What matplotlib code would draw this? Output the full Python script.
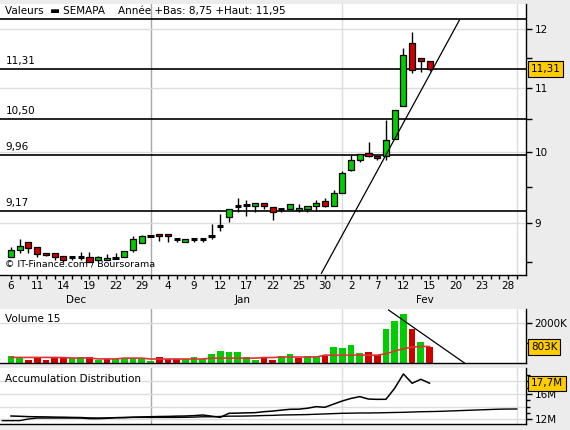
import matplotlib
matplotlib.use("Agg")
import matplotlib.pyplot as plt
import matplotlib.transforms as mtransforms
from matplotlib.ticker import FixedLocator, NullFormatter

# SEMAPA, seances du 6 dec 2006 au 15 fev 2007 (axe jusqu'au 28 fev)
tick_days = ["6", "11", "14", "19", "22", "29", "4", "9", "12", "17",
             "22", "25", "30", "2", "7", "12", "15", "20", "23", "28"]
months = ["Dec", "Jan", "Fev"]
month_first = [0, 16, 38]
n_slots = 58

opens = [8.56, 8.65, 8.75, 8.69, 8.61, 8.61, 8.58, 8.56, 8.56, 8.57,
         8.52, 8.52, 8.55, 8.56, 8.65, 8.74, 8.84, 8.86, 8.86, 8.79,
         8.75, 8.79, 8.79, 8.84, 8.97, 9.08, 9.24, 9.25, 9.23, 9.27,
         9.22, 9.19, 9.19, 9.18, 9.20, 9.23, 9.30, 9.24, 9.42, 9.74,
         9.89, 9.99, 9.95, 9.95, 10.20, 10.70, 11.76, 11.50, 11.45]
highs = [8.69, 8.80, 8.75, 8.69, 8.61, 8.61, 8.58, 8.56, 8.63, 8.63,
         8.58, 8.60, 8.62, 8.64, 8.84, 8.85, 8.85, 8.86, 8.86, 8.81,
         8.79, 8.81, 8.81, 8.99, 9.12, 9.20, 9.35, 9.32, 9.27, 9.27,
         9.22, 9.21, 9.26, 9.26, 9.24, 9.32, 9.35, 9.45, 9.73, 9.96,
         9.98, 10.15, 9.95, 10.49, 10.65, 11.66, 11.95, 11.50, 11.45]
lows = [8.56, 8.61, 8.61, 8.57, 8.58, 8.53, 8.50, 8.52, 8.53, 8.50,
        8.50, 8.52, 8.55, 8.56, 8.63, 8.74, 8.84, 8.77, 8.75, 8.76,
        8.75, 8.76, 8.76, 8.80, 8.90, 9.02, 9.16, 9.10, 9.16, 9.20,
        9.04, 9.15, 9.19, 9.16, 9.15, 9.17, 9.22, 9.24, 9.42, 9.73,
        9.86, 9.93, 9.88, 9.89, 10.20, 10.70, 11.25, 11.26, 11.27]
closes = [8.65, 8.70, 8.68, 8.60, 8.59, 8.56, 8.52, 8.56, 8.56, 8.50,
          8.56, 8.55, 8.55, 8.64, 8.80, 8.83, 8.84, 8.83, 8.83, 8.79,
          8.79, 8.79, 8.79, 8.84, 8.97, 9.20, 9.24, 9.25, 9.27, 9.24,
          9.15, 9.19, 9.26, 9.21, 9.23, 9.28, 9.24, 9.41, 9.69, 9.89,
          9.98, 9.94, 9.91, 10.18, 10.65, 11.55, 11.29, 11.45, 11.31]

levels = [11.31, 10.50, 9.96, 9.17]
level_labels = ["11,31", "10,50", "9,96", "9,17"]
trend_idx = [35.6, 51.4]
trend_price = [8.36, 12.15]

# volume en milliers de titres
volumes = [363, 281, 165, 281, 165, 281, 281, 231, 314, 314,
           165, 198, 198, 248, 248, 198, 116, 314, 198, 198,
           198, 314, 198, 462, 627, 561, 561, 281, 165, 281,
           165, 363, 462, 231, 347, 347, 347, 809, 759, 908,
           479, 561, 396, 1700, 2096, 2442, 1700, 1056, 803]
vol_dir = "GGRRRRRGGRGRGGGGGRRRGGGGGGGGGRRGGRGGRGGGGRRGGGRGR"
vol_ma = [280, 280, 280, 280, 280, 280, 275, 250, 250, 250,
          205, 205, 205, 245, 245, 245, 200, 200, 200, 200,
          200, 200, 200, 245, 245, 245, 245, 245, 245, 275,
          275, 300, 300, 300, 300, 300, 395, 395, 395, 395,
          395, 395, 395, 460, 600, 720, 800, 830, 830]
vol_trend_idx = [43.3, 52.0]
vol_trend_val = [2660, 0]

# accumulation distribution en millions
acc_dist = [12.52, 12.48, 12.42, 12.40, 12.38, 12.35, 12.33, 12.30, 12.28, 12.22,
            12.20, 12.22, 12.26, 12.30, 12.34, 12.38, 12.41, 12.44, 12.46, 12.50,
            12.52, 12.58, 12.68, 12.50, 12.31, 12.95, 12.98, 13.02, 13.05, 13.20,
            13.30, 13.45, 13.58, 13.60, 13.75, 14.00, 13.90, 14.40, 14.90, 15.30,
            15.58, 15.20, 15.15, 15.16, 16.90, 19.16, 17.69, 18.32, 17.70]
acc_trend = [11.79, 11.79, 11.79, 12.05, 12.2, 12.2, 12.2, 12.2, 12.2, 12.2,
             12.1, 12.1, 12.15, 12.25, 12.25, 12.3, 12.3, 12.3, 12.3, 12.3,
             12.3, 12.32, 12.35, 12.4, 12.4, 12.45, 12.5, 12.5, 12.52, 12.55,
             12.6, 12.62, 12.68, 12.7, 12.72, 12.75, 12.8, 12.85, 12.9, 12.95,
             12.97, 13.0, 13.0, 13.02, 13.05, 13.08, 13.1, 13.15, 13.2, 13.22,
             13.25, 13.3, 13.35, 13.4, 13.45, 13.5, 13.55, 13.6, 13.62, 13.63]

GREEN = "#00CC00"
RED = "#CC0000"
BG = "#ECECEC"
ORANGE = "#FFCC00"
GRID = "#DDDDDD"
FS = 7.5

plt.rcParams["font.family"] = ["DejaVu Sans"]
plt.rcParams["font.size"] = FS

W, H = 570, 430
fig = plt.figure(figsize=(W / 100, H / 100), dpi=100, facecolor=BG)


def panel(top, bottom):
    return fig.add_axes([0, 1 - bottom / H, 526 / W, (bottom - top) / H])


ax = panel(4, 275)
vax = panel(309, 363)
aax = panel(368, 424)

x0, x1 = -1.26, 59.06
days = list(range(len(closes)))

for a in (ax, vax, aax):
    a.set_facecolor("white")
    a.set_xlim(x0, x1)
    for s in ("left", "top"):
        a.spines[s].set_visible(False)
    for s in ("right", "bottom"):
        a.spines[s].set_color("black")
        a.spines[s].set_linewidth(1)
    # debut de mois
    a.axvline(month_first[1], color="#A8A8A8", lw=1, zorder=0)
    a.axvline(month_first[2], color=GRID, lw=1, zorder=0)
    a.axvline(n_slots, color=GRID, lw=1, zorder=0)
    a.tick_params(axis="y", which="both", direction="out", left=False, right=True,
                  labelleft=False, labelright=True, length=4, width=1, pad=2,
                  labelsize=FS)

# ---- cours
ax.set_yscale("log")
ax.set_ylim(8.339, 12.45)
for p in [9, 10, 11, 12]:
    ax.axhline(p, color=GRID, lw=1, zorder=0)
ax.yaxis.set_major_locator(FixedLocator([9, 10, 11, 12]))
ax.yaxis.set_minor_locator(FixedLocator([8.5, 9.5, 10.5, 11.5]))
ax.set_yticklabels(["9", "10", "11", "12"])
ax.yaxis.set_minor_formatter(NullFormatter())

for lv, lab in zip(levels, level_labels):
    ax.axhline(lv, color="black", lw=1.2, zorder=1)
    ax.annotate(lab, xy=(0, lv), xycoords=mtransforms.blended_transform_factory(ax.transAxes, ax.transData),
                xytext=(4, 2), textcoords="offset points", ha="left", va="bottom", fontsize=FS)

ax.vlines(days, lows, highs, color="black", lw=1, zorder=2)
for i in days:
    o, c = opens[i], closes[i]
    if abs(c - o) < 0.015:
        ax.hlines((o + c) / 2, i - 0.36, i + 0.36, color="black", lw=2.2, zorder=3)
    else:
        ax.bar(i, abs(c - o), bottom=min(o, c), width=0.7,
               color=GREEN if c > o else RED, edgecolor="black", lw=0.9, zorder=3)

ax.plot(trend_idx, trend_price, color="black", lw=0.9, zorder=4)
ax.plot([0, 1], [0.945, 0.945], transform=ax.transAxes, color="black", lw=1.2, clip_on=False)
ax.text(0.009, 0.975, "Valeurs  \u25ac SEMAPA    Ann\u00e9e +Bas: 8,75 +Haut: 11,95",
        transform=ax.transAxes, ha="left", va="center", fontsize=FS)
ax.text(0.009, 0.025, "\u00a9 IT-Finance.com / Boursorama", transform=ax.transAxes,
        ha="left", va="bottom", fontsize=6.8)
ax.annotate("11,31", xy=(1, closes[-1]),
            xycoords=mtransforms.blended_transform_factory(ax.transAxes, ax.transData),
            xytext=(3.5, 0), textcoords="offset points", ha="left", va="center", fontsize=FS,
            bbox=dict(boxstyle="square,pad=0.25", fc=ORANGE, ec="black", lw=0.8))

ax.set_xticks(range(0, n_slots, 3))
ax.set_xticklabels(tick_days)
ax.set_xticks(range(0, n_slots + 1), minor=True)
ax.tick_params(axis="x", which="both", direction="out", length=3, width=1, pad=1.5, labelsize=FS)
xt = mtransforms.blended_transform_factory(ax.transData, ax.transAxes)
bounds = month_first + [n_slots]
for k, m in enumerate(months):
    ax.text((bounds[k] + bounds[k + 1] - 1) / 2, -0.092, m, transform=xt,
            ha="center", va="center", fontsize=FS)

# ---- volume
vax.set_ylim(0, 2710)
vax.axhline(2000, color=GRID, lw=1, zorder=0)
vax.bar(days, volumes, width=0.77, color=[GREEN if d == "G" else RED for d in vol_dir], zorder=2)
vax.plot(days, vol_ma, color="#DD3333", lw=1.2, zorder=3)
vax.plot(vol_trend_idx, vol_trend_val, color="black", lw=0.9, zorder=4)
vax.set_yticks([1000, 2000])
vax.set_yticklabels(["", "2000K"])
vax.set_xticks([])
vax.text(0.009, 0.82, "Volume 15", transform=vax.transAxes, ha="left", va="center", fontsize=FS)
vax.annotate("803K", xy=(1, volumes[-1]),
             xycoords=mtransforms.blended_transform_factory(vax.transAxes, vax.transData),
             xytext=(3.5, 0), textcoords="offset points", ha="left", va="center", fontsize=FS,
             bbox=dict(boxstyle="square,pad=0.25", fc=ORANGE, ec="black", lw=0.8))

# ---- accumulation distribution
aax.set_ylim(11.26, 20.1)
for v in [12, 14, 16, 18]:
    aax.axhline(v, color=GRID, lw=1, zorder=0)
aax.plot(range(-1, n_slots + 1), acc_trend, color="black", lw=1, zorder=2)
aax.plot(days, acc_dist, color="black", lw=1.1, zorder=3)
aax.yaxis.set_major_locator(FixedLocator([12, 16]))
aax.yaxis.set_minor_locator(FixedLocator([13, 14, 15, 17, 18, 19]))
aax.set_yticklabels(["12M", "16M"])
aax.tick_params(axis="y", which="minor", length=3)
aax.set_xticks([])
aax.text(0.009, 0.8, "Accumulation Distribution", transform=aax.transAxes,
         ha="left", va="center", fontsize=FS)
aax.annotate("17,7M", xy=(1, acc_dist[-1]),
             xycoords=mtransforms.blended_transform_factory(aax.transAxes, aax.transData),
             xytext=(3.5, 0), textcoords="offset points", ha="left", va="center", fontsize=FS,
             bbox=dict(boxstyle="square,pad=0.25", fc=ORANGE, ec="black", lw=0.8))

fig.savefig("out.png", dpi=100, facecolor=BG)
